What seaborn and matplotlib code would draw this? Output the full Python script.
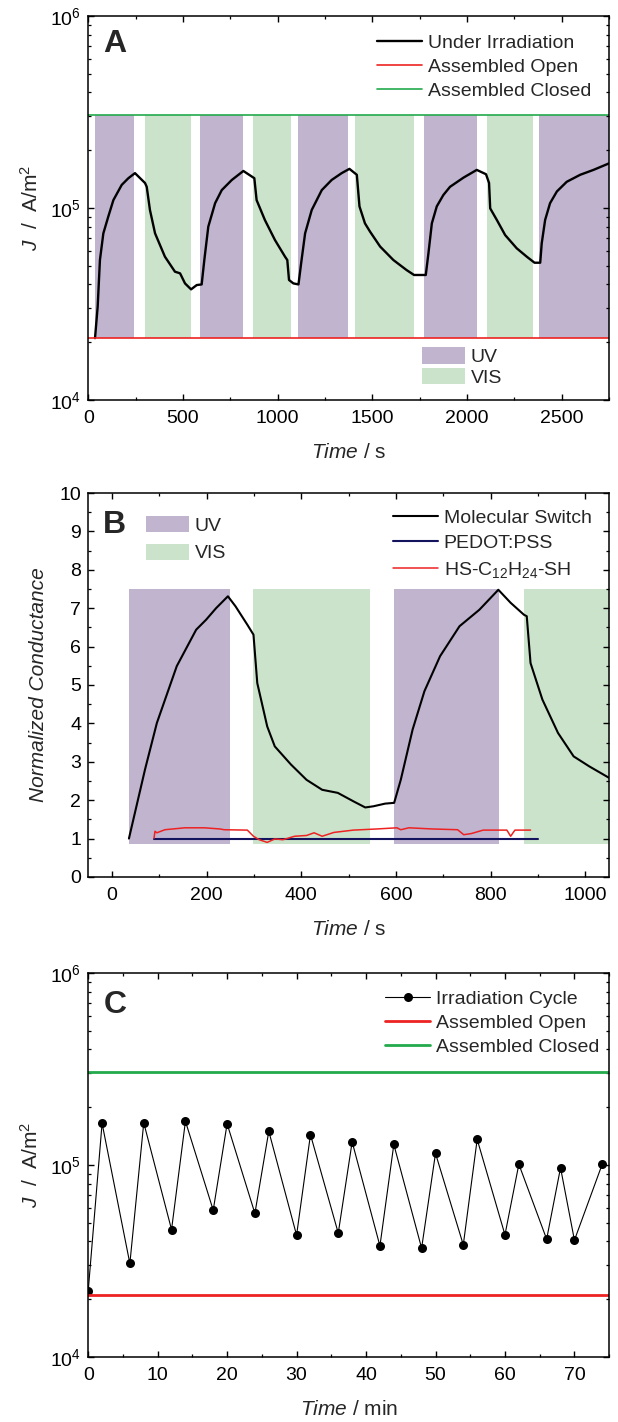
import numpy as np
import pandas as pd
import matplotlib
matplotlib.use("Agg")
import matplotlib.pyplot as plt
import seaborn as sns
from matplotlib.patches import Patch
from matplotlib.ticker import MultipleLocator, LogLocator, NullFormatter

# ---- panel A: current density under alternating irradiation ----
a_time = [36, 50, 62, 80, 106, 133, 177, 212, 247, 300,
          309, 326, 353, 405, 458, 485, 511, 543, 573, 599,
          613, 634, 670, 705, 758, 819, 877, 889, 933, 986,
          1039, 1051, 1060, 1083, 1110, 1124, 1145, 1180, 1233, 1285,
          1338, 1379, 1418, 1432, 1461, 1488, 1541, 1611, 1681, 1720,
          1782, 1796, 1814, 1840, 1875, 1910, 1981, 2051, 2100, 2116,
          2122, 2157, 2201, 2262, 2315, 2356, 2386, 2394, 2412, 2438,
          2474, 2526, 2597, 2667, 2750]
a_j = [2.1, 3.06, 5.36, 7.38, 9.02, 11.0, 13.2, 14.3, 15.2, 13.5,
       12.9, 9.77, 7.38, 5.58, 4.66, 4.57, 4.05, 3.77, 3.97, 4.0,
       5.36, 8.0, 10.6, 12.4, 14.0, 15.6, 14.3, 11.0, 8.65, 6.81,
       5.58, 5.36, 4.22, 4.05, 4.0, 5.15, 7.38, 9.77, 12.4, 14.0,
       15.2, 16.0, 14.9, 10.2, 8.32, 7.53, 6.30, 5.36, 4.75, 4.48,
       4.48, 5.81, 8.32, 10.2, 11.7, 12.9, 14.4, 15.8, 15.0, 13.5,
       9.96, 8.67, 7.23, 6.17, 5.58, 5.19, 5.19, 6.55, 8.67, 10.6,
       12.2, 13.7, 14.9, 15.8, 17.1]  # x 1e4 A/m2
a_open = 2.1e4
a_closed = 3.05e5
a_uv = [(36, 243), (590, 816), (1106, 1373), (1770, 2051), (2382, 2750)]
a_vis = [(300, 543), (872, 1071), (1409, 1722), (2107, 2350)]

# ---- panel B: normalized conductance ----
b_time = [36, 70, 95, 137, 178, 199, 220, 245, 261, 286,
          299, 307, 328, 344, 378, 411, 444, 477, 510, 535,
          552, 577, 596, 610, 635, 660, 693, 734, 776, 816,
          842, 870, 876, 884, 909, 942, 975, 1008, 1050]
b_switch = [1.0, 2.8, 4.01, 5.49, 6.44, 6.70, 7.0, 7.31, 7.05, 6.57,
            6.31, 5.05, 3.92, 3.40, 2.93, 2.53, 2.27, 2.19, 1.97, 1.81,
            1.84, 1.91, 1.93, 2.53, 3.84, 4.84, 5.75, 6.53, 6.96, 7.48,
            7.14, 6.83, 6.79, 5.57, 4.62, 3.75, 3.14, 2.88, 2.58]
b_pedot_time = [90, 900]
b_pedot = [1.0, 1.0]
b_hs_time = [89, 91, 95, 112, 154, 195, 228, 237, 286, 299,
             311, 328, 344, 361, 386, 411, 427, 444, 469, 510,
             560, 602, 610, 627, 676, 730, 743, 759, 784, 834,
             842, 851, 884]
b_hs = [1.01, 1.19, 1.15, 1.23, 1.28, 1.28, 1.25, 1.23, 1.22, 1.06,
        0.97, 0.90, 0.99, 0.97, 1.06, 1.08, 1.15, 1.06, 1.16, 1.22,
        1.25, 1.28, 1.23, 1.28, 1.25, 1.23, 1.10, 1.13, 1.22, 1.22,
        1.06, 1.22, 1.22]
b_uv = [(36, 249), (596, 817)]
b_vis = [(299, 544), (870, 1050)]
b_band_lo, b_band_hi = 0.85, 7.5

# ---- panel C: irradiation cycles ----
c_time = [0, 2, 6, 8, 12, 14, 18, 20, 24, 26, 30, 32, 36, 38, 42, 44,
          48, 50, 54, 56, 60, 62, 66, 68, 70, 74]
c_j = [2.2, 16.5, 3.07, 16.6, 4.61, 16.9, 5.82, 16.4, 5.60, 15.0, 4.31, 14.4,
       4.42, 13.2, 3.79, 12.8, 3.69, 11.5, 3.84, 13.6, 4.33, 10.1, 4.11, 9.68,
       4.06, 10.1]  # x 1e4 A/m2
c_open = 2.1e4
c_closed = 3.07e5

UV_COL = "#c0b4cf"
VIS_COL = "#cbe3ca"
RED = "#ee2222"
GREEN = "#22aa4c"
NAVY = "#14145e"

sns.set_theme(style="ticks")
plt.rcParams.update({
    "font.family": ["Liberation Sans", "DejaVu Sans"],
    "mathtext.fontset": "custom",
    "mathtext.rm": "Liberation Sans",
    "mathtext.it": "Liberation Sans:italic",
    "mathtext.bf": "Liberation Sans:bold",
    "axes.edgecolor": "black",
    "axes.linewidth": 1.1,
    "xtick.direction": "in",
    "ytick.direction": "in",
    "xtick.top": True,
    "ytick.right": True,
    "xtick.color": "black",
    "ytick.color": "black",
    "xtick.labelsize": 14,
    "ytick.labelsize": 14,
    "xtick.major.size": 4.5,
    "ytick.major.size": 4.5,
    "xtick.minor.size": 2.5,
    "ytick.minor.size": 2.5,
    "xtick.major.width": 1.0,
    "ytick.major.width": 1.0,
    "xtick.minor.width": 0.9,
    "ytick.minor.width": 0.9,
    "xtick.major.pad": 7,
    "ytick.major.pad": 5,
    "legend.fontsize": 14,
})

fig = plt.figure(figsize=(6.18, 14.22), dpi=100)
W = 0.843
H = 0.270
axA = fig.add_axes([0.1427, 0.7187, W, H])
axB = fig.add_axes([0.1427, 0.3833, W, H])
axC = fig.add_axes([0.1427, 0.0457, W, H])

LBL = 15


def style_axes(ax):
    ax.tick_params(which="both", top=True, right=True, direction="in")
    for sp in ax.spines.values():
        sp.set_visible(True)
        sp.set_color("black")
        sp.set_linewidth(1.1)


def log_y(ax):
    ax.set_yscale("log")
    ax.set_ylim(1e4, 1e6)
    ax.yaxis.set_major_locator(LogLocator(base=10))
    ax.yaxis.set_minor_locator(LogLocator(base=10, subs=np.arange(2, 10)))
    ax.yaxis.set_minor_formatter(NullFormatter())


def band_legend(ax, anchor, spacing):
    return ax.legend(handles=[Patch(color=UV_COL, lw=0, label="UV"),
                              Patch(color=VIS_COL, lw=0, label="VIS")],
                     loc="upper left", bbox_to_anchor=anchor, frameon=False,
                     borderaxespad=0, borderpad=0, handlelength=2.2, handleheight=0.9,
                     handletextpad=0.3, labelspacing=spacing)


# ---------------- A ----------------
log_y(axA)
for lo, hi in a_uv:
    axA.fill_between([lo, hi], a_open, a_closed, color=UV_COL, lw=0, zorder=0)
for lo, hi in a_vis:
    axA.fill_between([lo, hi], a_open, a_closed, color=VIS_COL, lw=0, zorder=0)
dfA = pd.DataFrame({"t": a_time, "J": np.array(a_j) * 1e4})
sns.lineplot(data=dfA, x="t", y="J", ax=axA, color="black", lw=1.7,
             estimator=None, sort=False, label="Under Irradiation")
axA.axhline(a_open, color=RED, lw=1.2, label="Assembled Open")
axA.axhline(a_closed, color=GREEN, lw=1.2, label="Assembled Closed")
axA.set_xlim(0, 2750)
axA.xaxis.set_major_locator(MultipleLocator(500))
axA.xaxis.set_minor_locator(MultipleLocator(250))
axA.set_xlabel(r"$Time$ / s", fontsize=LBL, labelpad=12)
axA.set_ylabel(r"$J$  /  A/m$^2$", fontsize=LBL, labelpad=6)
style_axes(axA)
legA = axA.legend(loc="upper left", bbox_to_anchor=(0.555, 0.952), frameon=False,
                  borderaxespad=0, borderpad=0, handlelength=2.3, handletextpad=0.3,
                  labelspacing=0.33)
axA.add_artist(legA)
band_legend(axA, (0.641, 0.137), 0.1)
axA.text(0.029, 0.928, "A", transform=axA.transAxes, fontsize=23,
         fontweight="bold", va="center", ha="left")

# ---------------- B ----------------
for lo, hi in b_uv:
    axB.fill_between([lo, hi], b_band_lo, b_band_hi, color=UV_COL, lw=0, zorder=0)
for lo, hi in b_vis:
    axB.fill_between([lo, hi], b_band_lo, b_band_hi, color=VIS_COL, lw=0, zorder=0)
sns.lineplot(x=b_time, y=b_switch, ax=axB, color="black", lw=1.5,
             estimator=None, sort=False, label="Molecular Switch")
sns.lineplot(x=b_pedot_time, y=b_pedot, ax=axB, color=NAVY, lw=1.5,
             estimator=None, sort=False, label="PEDOT:PSS")
sns.lineplot(x=b_hs_time, y=b_hs, ax=axB, color=RED, lw=1.1,
             estimator=None, sort=False, label=r"HS-C$_{12}$H$_{24}$-SH")
axB.set_xlim(-50, 1050)
axB.set_ylim(0, 10)
axB.xaxis.set_major_locator(MultipleLocator(200))
axB.xaxis.set_minor_locator(MultipleLocator(100))
axB.yaxis.set_major_locator(MultipleLocator(1))
axB.yaxis.set_minor_locator(MultipleLocator(0.5))
axB.set_xlabel(r"$Time$ / s", fontsize=LBL, labelpad=12)
axB.set_ylabel("Normalized Conductance", fontsize=LBL, fontstyle="italic", labelpad=8)
style_axes(axB)
legB = axB.legend(loc="upper left", bbox_to_anchor=(0.585, 0.958), frameon=False,
                  borderaxespad=0, borderpad=0, handlelength=2.3, handletextpad=0.3,
                  labelspacing=0.4)
axB.add_artist(legB)
band_legend(axB, (0.111, 0.94), 0.45)
axB.text(0.029, 0.917, "B", transform=axB.transAxes, fontsize=23,
         fontweight="bold", va="center", ha="left")

# ---------------- C ----------------
log_y(axC)
dfC = pd.DataFrame({"t": c_time, "J": np.array(c_j) * 1e4})
sns.lineplot(data=dfC, x="t", y="J", ax=axC, color="black", lw=0.8,
             marker="o", markersize=6.5, markeredgewidth=0,
             estimator=None, sort=False, label="Irradiation Cycle")
axC.axhline(c_open, color=RED, lw=2.0, label="Assembled Open")
axC.axhline(c_closed, color=GREEN, lw=2.0, label="Assembled Closed")
axC.set_xlim(0, 75)
axC.xaxis.set_major_locator(MultipleLocator(10))
axC.xaxis.set_minor_locator(MultipleLocator(5))
axC.set_xlabel(r"$Time$ / min", fontsize=LBL, labelpad=12)
axC.set_ylabel(r"$J$  /  A/m$^2$", fontsize=LBL, labelpad=6)
style_axes(axC)
axC.legend(loc="upper left", bbox_to_anchor=(0.57, 0.956), frameon=False,
           borderaxespad=0, borderpad=0, handlelength=2.3, handletextpad=0.3,
           labelspacing=0.33)
axC.text(0.029, 0.917, "C", transform=axC.transAxes, fontsize=23,
         fontweight="bold", va="center", ha="left")

fig.savefig("out.png", dpi=100)
